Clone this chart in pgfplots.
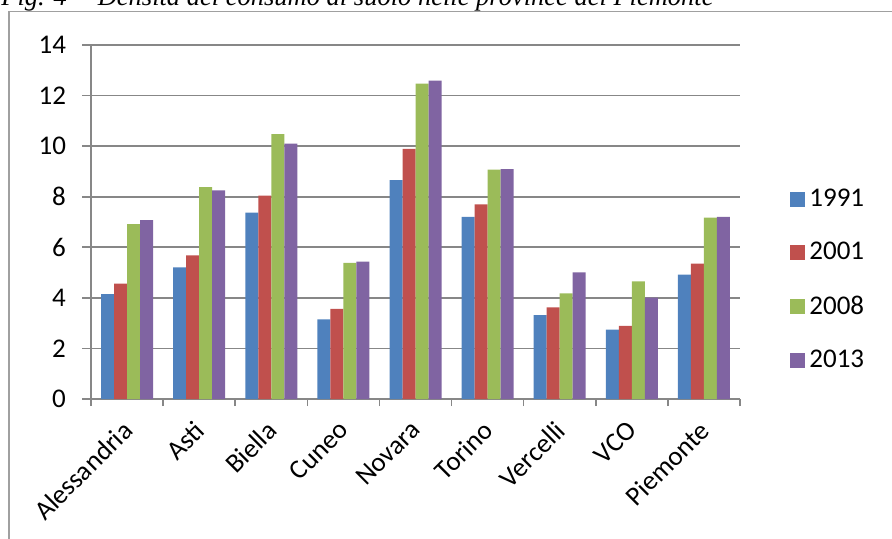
\documentclass[border=0pt]{standalone}
\usepackage{pgfplots}
\pgfplotsset{compat=1.18}
\usepackage{fontspec}
\setmainfont{Carlito}
\newfontfamily\titlefont{Liberation Serif}

\definecolor{s1991}{HTML}{4F81BD}
\definecolor{s2001}{HTML}{C0504D}
\definecolor{s2008}{HTML}{9BBB59}
\definecolor{s2013}{HTML}{8064A2}
\definecolor{gridgray}{HTML}{878787}
\definecolor{framegray}{HTML}{A0A0A0}

% Densità del consumo di suolo (province, Piemonte)
% columns: x index, 1991, 2001, 2008, 2013
\pgfplotstableread{
x   a     b     c     d
0   4.15  4.56  6.92  7.07
1   5.21  5.68  8.38  8.25
2   7.37  8.04  10.48 10.10
3   3.15  3.56  5.38  5.43
4   8.66  9.89  12.47 12.59
5   7.20  7.70  9.07  9.09
6   3.32  3.62  4.18  5.01
7   2.74  2.89  4.65  4.01
8   4.92  5.35  7.17  7.20
}\densita

\begin{document}
\begin{tikzpicture}
\path[use as bounding box] (0pt,0pt) rectangle (446pt,-269.5pt);
% frame of the figure box
\draw[framegray,line width=0.6pt] (4.5pt,-269.5pt) -- (4.5pt,-5.75pt) -- (446pt,-5.75pt);
% caption (partly cut by the top of the page)
\node[anchor=base west,inner sep=0pt,font=\titlefont\itshape\fontsize{13.25}{15}\selectfont]
  at (0.5pt,-3pt) {Fig. 4 -- Densità del consumo di suolo nelle province del Piemonte};

\begin{axis}[
  at={(45.5pt,-199.5pt)}, anchor=south west,
  scale only axis, width=324.5pt, height=177pt,
  ybar=0pt, bar width=6.5pt,
  ymin=0, ymax=14, ytick={0,2,...,14},
  xmin=-0.5, xmax=8.5,
  xtick={0,...,8},
  xticklabels={Alessandria,Asti,Biella,Cuneo,Novara,Torino,Vercelli,VCO,Piemonte},
  minor xtick={-0.5,0.5,...,8.5},
  major x tick style={draw=none},
  tick align=outside,
  major tick length=4.5pt, minor tick length=3.5pt,
  tick style={gridgray,line width=0.8pt},
  axis x line*=bottom, axis y line*=left,
  axis line style={gridgray,line width=0.85pt,-},
  ymajorgrids, grid style={gridgray,line width=0.85pt},
  /pgf/number format/assume math mode=true,
  ticklabel style={font=\fontsize{13.5}{16}\selectfont, text=black},
  xticklabel style={xshift=-3pt, yshift=-4pt, rotate=45, anchor=north east, inner sep=1pt},
  yticklabel style={anchor=east, xshift=-4.5pt},
  legend style={draw=none, fill=none, at={(1.077,0.606)}, anchor=north west,
    font=\fontsize{13.5}{16}\selectfont, inner sep=0pt, row sep=12.5pt,
    /tikz/every even column/.append style={column sep=0pt}},
  legend cell align=left,
  legend image code/.code={\fill[#1] (0pt,-3.75pt) rectangle (7.5pt,3.75pt);},
]
\addplot[fill=s1991,draw=none] table[x=x,y=a]{\densita};
\addplot[fill=s2001,draw=none] table[x=x,y=b]{\densita};
\addplot[fill=s2008,draw=none] table[x=x,y=c]{\densita};
\addplot[fill=s2013,draw=none] table[x=x,y=d]{\densita};
\legend{1991,2001,2008,2013}
\end{axis}
\end{tikzpicture}
\end{document}
